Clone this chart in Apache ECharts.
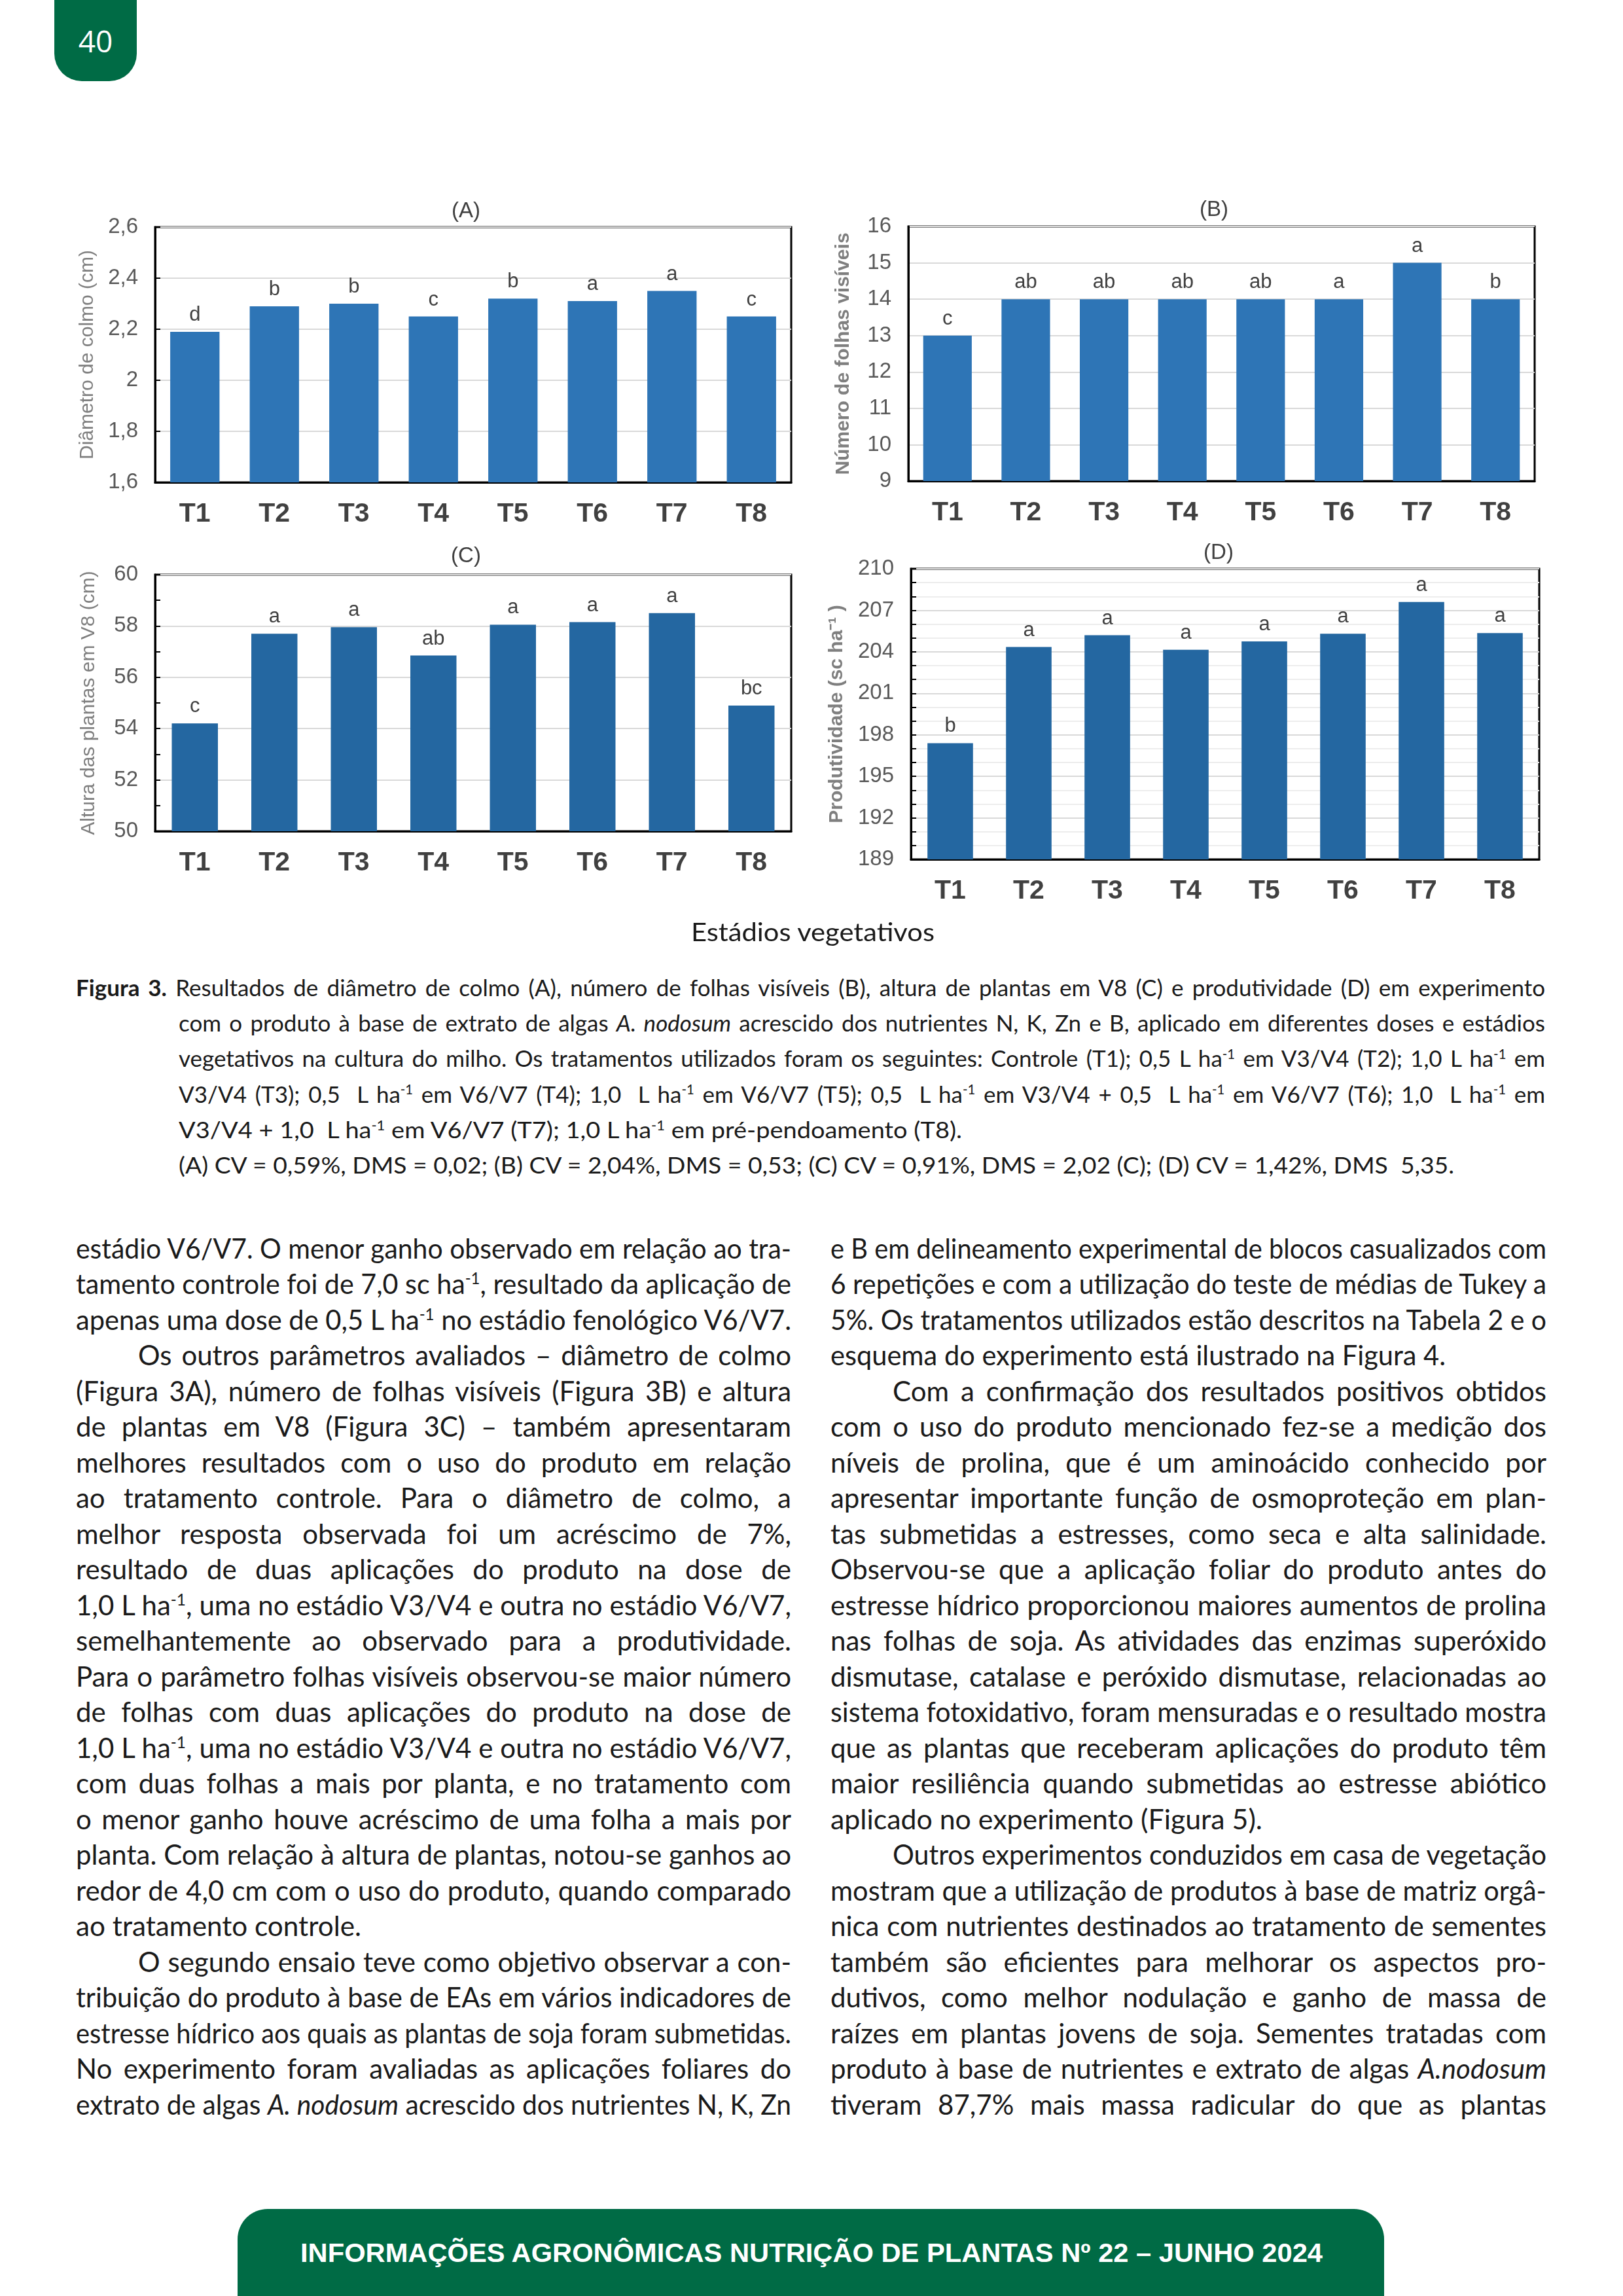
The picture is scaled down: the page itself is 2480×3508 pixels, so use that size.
<!DOCTYPE html>
<html lang="pt-BR">
<head>
<meta charset="utf-8">
<script src="https://cdn.jsdelivr.net/npm/echarts@6/dist/echarts.min.js"></script>
<style>
  html,body{margin:0;padding:0;background:#fff;}
  body{width:2480px;height:3508px;position:relative;overflow:hidden;font-family:Lato,"Open Sans",sans-serif;color:#1a1a1a;}
  #tab{position:absolute;left:83px;top:0;width:126px;height:124px;background:#006B45;border-radius:0 0 42px 42px;color:#fff;font-family:"Open Sans","Noto Sans",sans-serif;font-size:46px;line-height:124px;text-align:center;}
  #chart{position:absolute;left:0;top:0;width:2480px;height:1400px;}
  .ln{position:absolute;white-space:nowrap;overflow:visible;}
  .ln > span{display:inline-block;transform-origin:0 50%;white-space:nowrap;}
  sup{font-size:58%;vertical-align:baseline;position:relative;top:-0.6em;line-height:0;}
  #footer{position:absolute;left:363px;top:3375px;width:1752px;height:160px;background:#006B45;border-radius:46px 46px 0 0;}
</style>
</head>
<body>
<div id="tab">40</div>
<div id="footer"></div>
<div id="chart"></div>
<div id="text"></div>
<script>
// ---------- DATA ----------
const categories = ['T1','T2','T3','T4','T5','T6','T7','T8'];

const diametro = [2.19, 2.29, 2.30, 2.25, 2.32, 2.31, 2.35, 2.25];
const diametroLetras = ['d','b','b','c','b','a','a','c'];

const folhas = [13, 14, 14, 14, 14, 14, 15, 14];
const folhasLetras = ['c','ab','ab','ab','ab','a','a','b'];

const altura = [54.2, 57.7, 57.95, 56.85, 58.05, 58.15, 58.5, 54.9];
const alturaLetras = ['c','a','a','ab','a','a','a','bc'];

const produtividade = [197.4, 204.35, 205.2, 204.15, 204.75, 205.3, 207.6, 205.35];
const produtividadeLetras = ['b','a','a','a','a','a','a','a'];

const titulos = ['(A)','(B)','(C)','(D)'];
const nomesEixoY = ['Diâmetro de colmo (cm)','Número de folhas visíveis','Altura das plantas em V8 (cm)','Produtividade (sc ha⁻¹ )'];
const nomeEixoX = 'Estádios vegetativos';

// ---------- CHART ----------
const chart = echarts.init(document.getElementById('chart'), null, {renderer:'canvas'});
const F = 'Liberation Sans, Arial, sans-serif';
const FN = 'Liberation Sans Narrow, Arial Narrow, Liberation Sans, Arial, sans-serif';

const grids = [
  {left:237, top:347, width:972, height:390},
  {left:1388, top:346, width:957, height:389},
  {left:237, top:878, width:972, height:392},
  {left:1392, top:869, width:960, height:444}
];
const colorsBar = ['#2E75B6','#2E75B6','#2467A1','#2467A1'];

function xAx(i){
  return {type:'category', gridIndex:i, data:categories,
    axisLine:{show:true, lineStyle:{color:'#000', width:3}},
    axisTick:{show:false},
    axisLabel:{color:'#404040', fontSize:41, fontWeight:'bold', fontFamily:FN, margin:28}};
}
function yAx(i, min, max, interval, name, bold, gap, fmt, minor, minorLines){
  const o = {type:'value', gridIndex:i, min, max, interval,
    name, nameLocation:'middle', nameGap:gap, nameRotate:90,
    nameTextStyle:{color:'#7F7F7F', fontSize:30, fontWeight: bold?'bold':'normal', fontFamily:F},
    axisLine:{show:true, lineStyle:{color:'#000', width:3}},
    axisTick:{show: i!==1, inside:true, length:8, lineStyle:{color:'#000', width:2}},
    axisLabel:{color:'#595959', fontSize:33, fontFamily:FN, margin:26, formatter:fmt},
    splitLine:{show:true, lineStyle:{color:'#D9D9D9', width:2}}};
  if (minor){
    o.minorTick = {show:true, splitNumber:minor, length:8, lineStyle:{color:'#000', width:2}};
    o.minorTick.inside = true;
  }
  if (minorLines){
    o.minorSplitLine = {show:true, lineStyle:{color:'#EDEDED', width:2}};
  }
  return o;
}
const comma = v => String(Math.round(v*10)/10).replace('.', ',');
const intf = v => String(Math.round(v));

function barSeries(i, data, letters){
  return {type:'bar', xAxisIndex:i, yAxisIndex:i, data, barWidth: i<2 ? '62%' : '58%',
    itemStyle:{color:colorsBar[i]},
    label:{show:true, position:'top', distance:10, color:'#404040', fontSize:31, fontFamily:F,
      formatter: p => letters[p.dataIndex]}};
}

const titlePos = [[712,323],[1855,321],[712,850],[1862,845]];

chart.setOption({
  animation:false,
  grid: grids.map(g => Object.assign({show:true, borderColor:'#000', borderWidth:3, backgroundColor:'#fff'}, g)),
  xAxis: [0,1,2,3].map(xAx),
  yAxis: [
    yAx(0, 1.6, 2.6, 0.2, nomesEixoY[0], false, 88, comma),
    yAx(1, 9, 16, 1, nomesEixoY[1], true, 84, intf),
    yAx(2, 50, 60, 2, nomesEixoY[2], false, 86, intf, 2, false),
    yAx(3, 189, 210, 3, nomesEixoY[3], true, 98, intf, 3, true)
  ],
  series: [
    barSeries(0, diametro, diametroLetras),
    barSeries(1, folhas, folhasLetras),
    barSeries(2, altura, alturaLetras),
    barSeries(3, produtividade, produtividadeLetras)
  ],
  graphic: titulos.map((t,i) => ({type:'text', x:titlePos[i][0], y:titlePos[i][1],
    style:{text:t, fontSize:33, fontFamily:F, fill:'#404040', align:'center', verticalAlign:'middle'}}))
});

// ---------- TEXT ----------
const caption = [
  ['j',116,2361,'<b>Figura 3.</b> Resultados de diâmetro de colmo (A), número de folhas visíveis (B), altura de plantas em V8 (C) e produtividade (D) em experimento'],
  ['j',273,2361,'com o produto à base de extrato de algas <i>A. nodosum</i> acrescido dos nutrientes N, K, Zn e B, aplicado em diferentes doses e estádios'],
  ['j',273,2361,'vegetativos na cultura do milho. Os tratamentos utilizados foram os seguintes: Controle (T1); 0,5 L ha<sup>-1</sup> em V3/V4 (T2); 1,0 L ha<sup>-1</sup> em'],
  ['j',273,2361,'V3/V4 (T3); 0,5 &nbsp;L ha<sup>-1</sup> em V6/V7 (T4); 1,0 &nbsp;L ha<sup>-1</sup> em V6/V7 (T5); 0,5 &nbsp;L ha<sup>-1</sup> em V3/V4 + 0,5 &nbsp;L ha<sup>-1</sup> em V6/V7 (T6); 1,0 &nbsp;L ha<sup>-1</sup> em'],
  ['w',273,1470,'V3/V4 + 1,0 &nbsp;L ha<sup>-1</sup> em V6/V7 (T7); 1,0 L ha<sup>-1</sup> em pré-pendoamento (T8).'],
  ['w',273,2222,'(A) CV = 0,59%, DMS = 0,02; (B) CV = 2,04%, DMS = 0,53; (C) CV = 0,91%, DMS = 2,02 (C); (D) CV = 1,42%, DMS &nbsp;5,35.']
];
const colL = [
  ['j','estádio V6/V7. O menor ganho observado em relação ao tra-'],
  ['j','tamento controle foi de 7,0 sc ha<sup>-1</sup>, resultado da aplicação de'],
  ['j','apenas uma dose de 0,5 L ha<sup>-1</sup> no estádio fenológico V6/V7.'],
  ['i','Os outros parâmetros avaliados – diâmetro de colmo'],
  ['j','(Figura 3A), número de folhas visíveis (Figura 3B) e altura'],
  ['j','de plantas em V8 (Figura 3C) – também apresentaram'],
  ['j','melhores resultados com o uso do produto em relação'],
  ['j','ao tratamento controle. Para o diâmetro de colmo, a'],
  ['j','melhor resposta observada foi um acréscimo de 7%,'],
  ['j','resultado de duas aplicações do produto na dose de'],
  ['j','1,0 L ha<sup>-1</sup>, uma no estádio V3/V4 e outra no estádio V6/V7,'],
  ['j','semelhantemente ao observado para a produtividade.'],
  ['j','Para o parâmetro folhas visíveis observou-se maior número'],
  ['j','de folhas com duas aplicações do produto na dose de'],
  ['j','1,0 L ha<sup>-1</sup>, uma no estádio V3/V4 e outra no estádio V6/V7,'],
  ['j','com duas folhas a mais por planta, e no tratamento com'],
  ['j','o menor ganho houve acréscimo de uma folha a mais por'],
  ['j','planta. Com relação à altura de plantas, notou-se ganhos ao'],
  ['j','redor de 4,0 cm com o uso do produto, quando comparado'],
  ['w552','ao tratamento controle.'],
  ['i','O segundo ensaio teve como objetivo observar a con-'],
  ['j','tribuição do produto à base de EAs em vários indicadores de'],
  ['j','estresse hídrico aos quais as plantas de soja foram submetidas.'],
  ['j','No experimento foram avaliadas as aplicações foliares do'],
  ['j','extrato de algas <i>A. nodosum</i> acrescido dos nutrientes N, K, Zn']
];
const colR = [
  ['j','e B em delineamento experimental de blocos casualizados com'],
  ['j','6 repetições e com a utilização do teste de médias de Tukey a'],
  ['j','5%. Os tratamentos utilizados estão descritos na Tabela 2 e o'],
  ['w2209','esquema do experimento está ilustrado na Figura 4.'],
  ['i','Com a confirmação dos resultados positivos obtidos'],
  ['j','com o uso do produto mencionado fez-se a medição dos'],
  ['j','níveis de prolina, que é um aminoácido conhecido por'],
  ['j','apresentar importante função de osmoproteção em plan-'],
  ['j','tas submetidas a estresses, como seca e alta salinidade.'],
  ['j','Observou-se que a aplicação foliar do produto antes do'],
  ['j','estresse hídrico proporcionou maiores aumentos de prolina'],
  ['j','nas folhas de soja. As atividades das enzimas superóxido'],
  ['j','dismutase, catalase e peróxido dismutase, relacionadas ao'],
  ['j','sistema fotoxidativo, foram mensuradas e o resultado mostra'],
  ['j','que as plantas que receberam aplicações do produto têm'],
  ['j','maior resiliência quando submetidas ao estresse abiótico'],
  ['w1929','aplicado no experimento (Figura 5).'],
  ['i','Outros experimentos conduzidos em casa de vegetação'],
  ['j','mostram que a utilização de produtos à base de matriz orgâ-'],
  ['j','nica com nutrientes destinados ao tratamento de sementes'],
  ['j','também são eficientes para melhorar os aspectos pro-'],
  ['j','dutivos, como melhor nodulação e ganho de massa de'],
  ['j','raízes em plantas jovens de soja. Sementes tratadas com'],
  ['j','produto à base de nutrientes e extrato de algas <i>A.nodosum</i>'],
  ['j','tiveram 87,7% mais massa radicular do que as plantas']
];
const footerText = 'INFORMAÇÕES AGRONÔMICAS NUTRIÇÃO DE PLANTAS Nº 22 – JUNHO 2024';

const host = document.getElementById('text');
const jobs = [];
function addLine(html, x0, x1, cy, size, lh, mode, extraStyle){
  const d = document.createElement('div');
  d.className = 'ln';
  d.style.left = x0 + 'px';
  d.style.top = (cy - lh/2) + 'px';
  d.style.height = lh + 'px';
  d.style.lineHeight = lh + 'px';
  d.style.fontSize = size + 'px';
  if (extraStyle) Object.assign(d.style, extraStyle);
  const s = document.createElement('span');
  s.innerHTML = html;
  d.appendChild(s);
  host.appendChild(d);
  jobs.push({s, W: x1 - x0, mode});
}

// caption
caption.forEach((c, k) => addLine(c[3], c[1], c[2], 1508 + k*54.2, 35, 54, c[0]));

// x axis common name
addLine(nomeEixoX, 1056, 1428, 1423, 39, 54, 'w');

// body columns
function addCol(lines, x0, x1){
  lines.forEach((l, k) => {
    const cy = 1907 + k*54.5;
    const f = l[0];
    if (f === 'i') addLine(l[1], x0 + 95, x1, cy, 42, 55, 'j');
    else if (f === 'j') addLine(l[1], x0, x1, cy, 42, 55, 'j');
    else addLine(l[1], x0, +f.slice(1), cy, 42, 55, 'w');
  });
}
addCol(colL, 116, 1209);
addCol(colR, 1269, 2363);

// footer text
addLine(footerText, 459, 2021, 3442, 40, 60, 'w',
  {color:'#fff', fontFamily:'Liberation Sans, Arial, sans-serif', fontWeight:'bold'});

function fitAll(){
  jobs.forEach(({s, W, mode}) => {
    s.style.wordSpacing = '0px';
    s.style.transform = 'none';
    const w = s.getBoundingClientRect().width;
    if (!w) return;
    if (mode === 'w'){
      s.style.transform = 'scaleX(' + (W / w) + ')';
      return;
    }
    const n = (s.textContent.match(/[ \u00a0]/g) || []).length;
    if (w > W){
      s.style.transform = 'scaleX(' + (W / w) + ')';
    } else if (n){
      s.style.wordSpacing = ((W - w) / n) + 'px';
      const w2 = s.getBoundingClientRect().width;
      if (Math.abs(w2 - W) > 1 && w2 > 0) s.style.transform = 'scaleX(' + (W / w2) + ')';
    }
  });
}
fitAll();
if (document.fonts && document.fonts.ready) document.fonts.ready.then(fitAll);
</script>
</body>
</html>
